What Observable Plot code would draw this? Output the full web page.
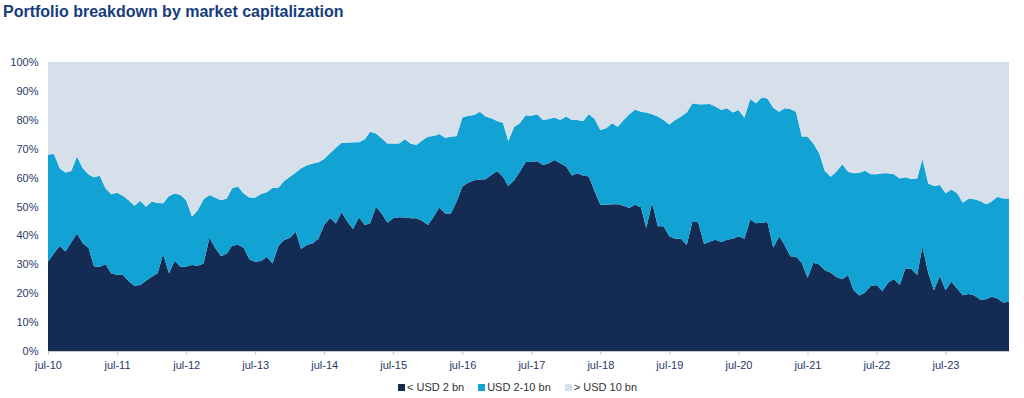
<!DOCTYPE html>
<html><head><meta charset="utf-8">
<script src="https://cdn.jsdelivr.net/npm/d3@7"></script>
<script src="https://cdn.jsdelivr.net/npm/@observablehq/plot@0.6"></script>
<style>
body{margin:0;background:#fff;font-family:"Liberation Sans",Arial,sans-serif;width:1024px;height:398px;position:relative;overflow:hidden;}
#title{height:28px;padding-top:2px;padding-left:3px;font-size:16px;font-weight:bold;color:#163c7c;line-height:20px;}
#legend{position:absolute;top:381px;left:398px;display:flex;align-items:center;font-size:11px;color:#333;white-space:nowrap;}
#legend .item{display:flex;align-items:center;margin-right:14px;}
#legend .sw{width:7px;height:7px;margin-right:2px;}
</style>
</head><body>
<div id="title">Portfolio breakdown by market capitalization</div>
<div id="chart"></div>
<div id="legend"></div>
<script>
const seriesNames = ["< USD 2 bn", "USD 2-10 bn", "> USD 10 bn"];
const seriesColors = ["#142b54", "#13a2d4", "#d6e0ea"];
const startYear = 2010, startMonth = 6; // July 2010
const small = [31.0,33.7,36.4,34.4,37.6,40.7,37.3,35.6,29.3,29.1,30.1,26.8,26.4,26.4,24.1,22.6,22.8,24.3,25.7,26.9,33.5,26.9,31.2,29.1,29.2,29.8,29.5,30.3,39.2,35.7,32.8,33.7,36.4,36.8,35.7,31.7,30.9,31.1,32.6,30.3,36.4,38.4,39.2,41.3,35.3,36.8,37.2,38.9,43.6,46.1,44.1,48.0,44.7,42.2,46.3,43.6,44.2,49.9,47.6,44.4,45.9,46.3,46.2,45.9,45.9,45.1,43.6,46.5,49.7,47.6,47.6,51.7,56.9,58.2,59.1,59.3,59.4,60.9,62.3,60.3,57.1,59.1,62.0,65.4,65.5,65.7,64.4,65.0,66.1,65.0,63.8,60.7,61.5,60.7,60.4,55.2,50.6,50.6,50.8,50.8,50.3,49.5,50.6,49.7,42.6,51.3,43.2,43.2,39.7,38.8,38.8,36.7,45.0,44.5,37.0,37.9,38.5,37.7,38.5,38.8,39.7,38.8,45.5,44.2,44.4,44.6,35.7,39.7,36.8,32.8,32.6,30.5,25.3,30.5,29.9,27.9,27.1,25.6,24.8,26.3,21.1,19.2,20.2,22.5,22.8,20.8,23.7,24.9,22.8,28.6,28.4,26.3,36.1,27.0,21.0,26.0,21.0,24.0,21.5,19.3,19.7,19.2,17.7,17.9,18.8,18.2,16.8,17.0];
const mid = [37.0,34.5,26.8,27.4,24.7,26.6,25.9,25.5,30.8,31.5,26.2,27.4,28.4,27.3,28.1,27.7,29.2,25.6,26.0,24.3,17.6,26.7,23.3,24.9,23.0,16.7,19.3,22.2,14.8,17.4,19.4,19.1,19.9,20.1,18.8,21.4,22.2,23.2,22.3,26.2,20.1,20.4,21.1,20.5,27.9,27.5,27.7,26.4,22.8,22.3,26.2,24.1,27.4,30.0,25.9,29.7,31.7,25.4,26.0,27.4,25.9,25.5,27.1,25.9,25.4,27.7,30.6,27.9,25.4,26.2,26.5,22.7,23.9,23.2,22.6,23.5,21.7,19.6,17.3,18.7,15.6,18.5,16.8,16.2,15.9,16.2,15.5,15.3,14.7,14.9,17.3,19.2,18.4,18.9,21.5,25.1,25.9,26.5,28.0,26.8,29.6,32.4,33.0,33.1,39.9,30.6,37.9,36.7,38.7,41.1,42.3,45.8,40.7,40.9,48.4,47.6,46.1,45.7,45.5,43.7,43.7,42.0,41.7,41.5,43.3,42.8,48.5,43.1,47.2,50.9,50.2,43.7,48.9,41.3,38.5,34.4,33.2,36.5,39.8,35.7,40.4,42.5,42.2,38.7,38.4,40.7,37.8,36.3,36.9,31.5,31.1,33.4,30.3,31.0,36.1,31.4,33.6,31.9,33.1,32.0,33.1,33.3,34.2,32.9,32.9,35.2,36.0,35.8];
const large = [32.0,31.8,36.8,38.2,37.7,32.7,36.8,38.9,39.9,39.4,43.7,45.8,45.2,46.3,47.8,49.7,48.0,50.1,48.3,48.8,48.9,46.4,45.5,46.0,47.8,53.5,51.2,47.5,46.0,46.9,47.8,47.2,43.7,43.1,45.5,46.9,46.9,45.7,45.1,43.5,43.5,41.2,39.7,38.2,36.8,35.7,35.1,34.7,33.6,31.6,29.7,27.9,27.9,27.8,27.8,26.7,24.1,24.7,26.4,28.2,28.2,28.2,26.7,28.2,28.7,27.2,25.8,25.6,24.9,26.2,25.9,25.6,19.2,18.6,18.3,17.2,18.9,19.5,20.4,21.0,27.3,22.4,21.2,18.4,18.6,18.1,20.1,19.7,19.2,20.1,18.9,20.1,20.1,20.4,18.1,19.7,23.5,22.9,21.2,22.4,20.1,18.1,16.4,17.2,17.5,18.1,18.9,20.1,21.6,20.1,18.9,17.5,14.3,14.6,14.6,14.5,15.4,16.6,16.0,17.5,16.6,19.2,12.8,14.3,12.3,12.6,15.8,17.2,16.0,16.3,17.2,25.8,25.8,28.2,31.6,37.7,39.7,37.9,35.4,38.0,38.5,38.3,37.6,38.8,38.8,38.5,38.5,38.8,40.3,39.9,40.5,40.3,33.6,42.0,42.9,42.6,45.4,44.1,45.4,48.7,47.2,47.5,48.1,49.2,48.3,46.6,47.2,47.2];
const xTickLabels = ["jul-10","jul-11","jul-12","jul-13","jul-14","jul-15","jul-16","jul-17","jul-18","jul-19","jul-20","jul-21","jul-22","jul-23"];
const yTicks = [0,10,20,30,40,50,60,70,80,90,100];

const dates = small.map((_, i) => new Date(Date.UTC(startYear, startMonth + i, 1)));
const valuesBySeries = [small, mid, large];
const rows = [];
dates.forEach((d, i) => {
  seriesNames.forEach((s, k) => rows.push({date: d, series: s, value: valuesBySeries[k][i]}));
});
const xTicks = xTickLabels.map((_, i) => new Date(Date.UTC(startYear + i, startMonth, 1)));
const labelColor = "#1f3a68";

const chart = Plot.plot({
  width: 1024,
  height: 346,
  marginTop: 32,
  marginBottom: 25,
  marginLeft: 48,
  marginRight: 15,
  style: {fontFamily: "'Liberation Sans', Arial, sans-serif", fontSize: "11px", background: "#fff"},
  x: {type: "utc", domain: [dates[0], dates[dates.length - 1]], label: null},
  y: {domain: [0, 100], label: null},
  color: {domain: seriesNames, range: seriesColors},
  marks: [
    Plot.areaY(rows, {x: "date", y: "value", fill: "series", order: seriesNames}),
    Plot.ruleY([0], {stroke: "#c8c8c8"}),
    Plot.axisY({ticks: yTicks, tickFormat: d => d + "%", tickSize: 0, tickPadding: 10, fill: labelColor}),
    Plot.axisX({ticks: xTicks, tickFormat: d => xTickLabels[d.getUTCFullYear() - startYear], tickSize: 4, tickPadding: 6, stroke: "#c8c8c8", fill: labelColor})
  ]
});
document.getElementById("chart").appendChild(chart);

const legend = document.getElementById("legend");
seriesNames.forEach((s, k) => {
  const item = document.createElement("div");
  item.className = "item";
  const sw = document.createElement("span");
  sw.className = "sw";
  sw.style.background = seriesColors[k];
  const t = document.createElement("span");
  t.textContent = s;
  item.appendChild(sw); item.appendChild(t);
  legend.appendChild(item);
});
</script>
</body></html>
